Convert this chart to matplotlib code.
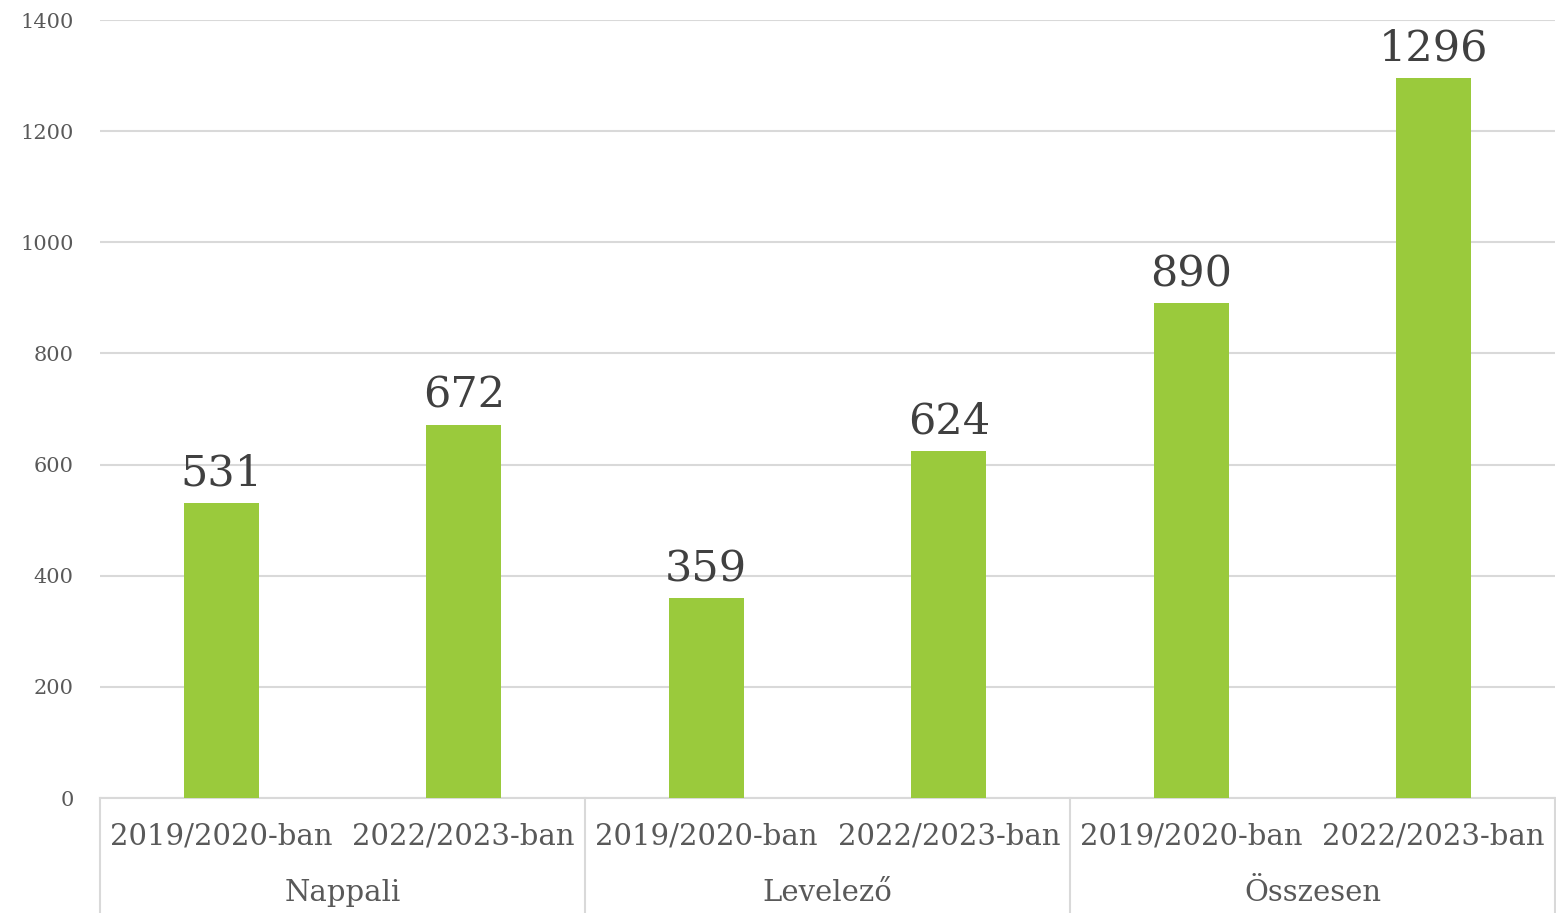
import matplotlib.pyplot as plt
import matplotlib.transforms as mtransforms

# data
groups = ["Nappali", "Levelező", "Összesen"]
years = ["2019/2020-ban", "2022/2023-ban"]
values = [531, 672, 359, 624, 890, 1296]

BAR = "#9ACA3C"
GRID = "#D9D9D9"
TXT = "#595959"
plt.rcParams["font.family"] = ["DejaVu Serif"]

fig = plt.figure(figsize=(15.56, 9.13), dpi=100)
ax = fig.add_axes([100 / 1556, 1 - 798 / 913, 1455 / 1556, 778 / 913])

x = list(range(len(values)))
bars = ax.bar(x, values, width=0.31, color=BAR, zorder=3)
for b, v in zip(bars, values):
    ax.annotate(str(v), (b.get_x() + b.get_width() / 2, v), xytext=(0, 6),
                textcoords="offset points", ha="center", va="bottom",
                fontsize=31, color="#404040")

ax.set_xlim(-0.5, len(values) - 0.5)
ax.set_ylim(0, 1400)
ax.set_yticks(range(0, 1401, 200))
ax.tick_params(axis="y", length=0, pad=19, labelsize=15, labelcolor=TXT)
ax.set_xticks([])
ax.yaxis.grid(True, color=GRID, linewidth=1.5, zorder=0)
for s in ["top", "right", "left"]:
    ax.spines[s].set_visible(False)
ax.spines["bottom"].set_color(GRID)
ax.spines["bottom"].set_linewidth(1.5)

# two-level category axis
trans = mtransforms.blended_transform_factory(ax.transData, ax.transAxes)
for i in x:
    ax.text(i, -38 / 778, years[i % 2], transform=trans, ha="center", va="center",
            fontsize=21, color=TXT)
for g, name in enumerate(groups):
    ax.text(2 * g + 0.5, -95 / 778, name, transform=trans, ha="center", va="center",
            fontsize=21, color=TXT)
for sep in [-0.5, 1.5, 3.5, 5.5]:
    ax.plot([sep, sep], [0, -115 / 778], transform=trans, color=GRID,
            linewidth=1.5, clip_on=False)

fig.savefig("out.png", dpi=100)
